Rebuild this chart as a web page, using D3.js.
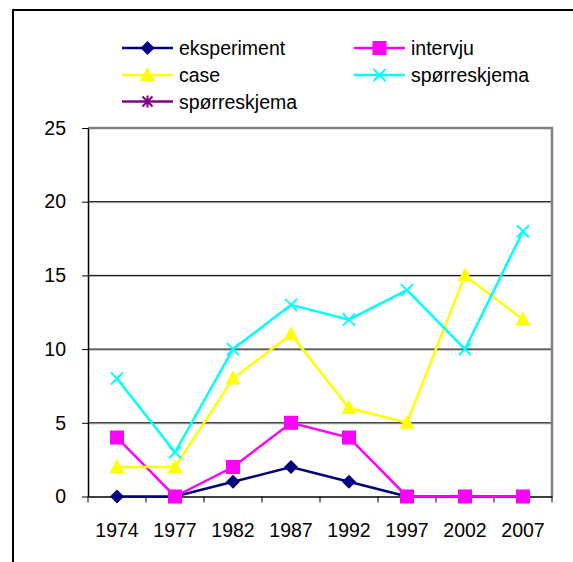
<!DOCTYPE html>
<html>
<head>
<meta charset="utf-8">
<script src="https://d3js.org/d3.v7.min.js"></script>
<style>
  body { margin: 0; background: #fff; }
  text { font-family: "Liberation Sans", Arial, sans-serif; }
</style>
</head>
<body>
<div id="chart"></div>
<script>

// data
var years = ["1974", "1977", "1982", "1987", "1992", "1997", "2002", "2007"];
var eksperiment = [0, 0, 1, 2, 1, 0, 0, 0];
var intervju = [4, 0, 2, 5, 4, 0, 0, 0];
var caseVals = [2, 2, 8, 11, 6, 5, 15, 12];
var sporreskjema = [8, 3, 10, 13, 12, 14, 10, 18];
var sporreskjema2 = [];   // second series in legend, no points drawn
var yTicks = [0, 5, 10, 15, 20, 25];

var series = [
  {name: "eksperiment", values: eksperiment, color: "#000080", marker: "diamond"},
  {name: "intervju", values: intervju, color: "#ff00ff", marker: "square"},
  {name: "case", values: caseVals, color: "#ffff00", marker: "triangle"},
  {name: "spørreskjema", values: sporreskjema, color: "#00ffff", marker: "x"},
  {name: "spørreskjema", values: sporreskjema2, color: "#800080", marker: "star"}
];

var W = 573, H = 562;
var plot = {left: 88, right: 552, top: 128, bottom: 496.5};
var fontSize = 19.5;

var svg = d3.select("#chart").append("svg")
  .attr("width", W)
  .attr("height", H);

// outer chart border (runs off the right and bottom)
svg.append("rect")
  .attr("x", 13).attr("y", 10)
  .attr("width", 600).attr("height", 600)
  .attr("fill", "none")
  .attr("stroke", "#000")
  .attr("stroke-width", 2);

var x = d3.scaleBand().domain(years).range([plot.left, plot.right]);
var y = d3.scaleLinear().domain([0, 25]).range([plot.bottom, plot.top]);

// gridlines
var grid = svg.append("g");
yTicks.slice(1, -1).forEach(function(t) {
  grid.append("line")
    .attr("x1", plot.left).attr("x2", plot.right)
    .attr("y1", y(t) + 1).attr("y2", y(t) + 1)
    .attr("stroke", "#b0b0b0").attr("stroke-width", 1);
  grid.append("line")
    .attr("x1", plot.left).attr("x2", plot.right)
    .attr("y1", y(t)).attr("y2", y(t))
    .attr("stroke", "#000").attr("stroke-width", 1);
});

// plot area border top/right in gray
svg.append("path")
  .attr("d", "M" + plot.left + "," + plot.top + "H" + plot.right + "V" + plot.bottom)
  .attr("fill", "none")
  .attr("stroke", "#808080")
  .attr("stroke-width", 2.5);

// axes
var yAxis = svg.append("g")
  .attr("transform", "translate(" + plot.left + ",0)")
  .call(d3.axisLeft(y).tickValues(yTicks).tickSize(6).tickPadding(16).tickSizeOuter(0));

var xAxis = svg.append("g")
  .attr("transform", "translate(0," + plot.bottom + ")")
  .call(d3.axisBottom(x).tickSize(0).tickPadding(27));

// category boundary ticks on x axis
xAxis.selectAll(".bound")
  .data(years.concat(["end"]))
  .enter().append("line")
  .attr("x1", function(d, i) { return plot.left + i * x.step(); })
  .attr("x2", function(d, i) { return plot.left + i * x.step(); })
  .attr("y1", 0).attr("y2", 6)
  .attr("stroke", "#000");

[yAxis, xAxis].forEach(function(a) {
  a.select(".domain").attr("stroke", "#000").attr("stroke-width", 1.5);
  a.selectAll("text").attr("font-size", fontSize).attr("fill", "#000");
});

function drawMarker(g, type, color, cx, cy) {
  if (type === "diamond") {
    g.append("path").attr("d", "M" + cx + "," + (cy - 7) + "L" + (cx + 7) + "," + cy + "L" + cx + "," + (cy + 7) + "L" + (cx - 7) + "," + cy + "Z")
      .attr("fill", color);
  } else if (type === "square") {
    g.append("rect").attr("x", cx - 7).attr("y", cy - 7).attr("width", 14).attr("height", 14)
      .attr("fill", color);
  } else if (type === "triangle") {
    g.append("path").attr("d", "M" + cx + "," + (cy - 8) + "L" + (cx + 7.5) + "," + (cy + 6) + "L" + (cx - 7.5) + "," + (cy + 6) + "Z")
      .attr("fill", color);
  } else if (type === "x") {
    g.append("path").attr("d", "M" + (cx - 6) + "," + (cy - 6) + "L" + (cx + 6) + "," + (cy + 6) + "M" + (cx + 6) + "," + (cy - 6) + "L" + (cx - 6) + "," + (cy + 6))
      .attr("stroke", color).attr("stroke-width", 2).attr("fill", "none");
  } else if (type === "star") {
    g.append("path").attr("d", "M" + (cx - 5) + "," + (cy - 5) + "L" + (cx + 5) + "," + (cy + 5) + "M" + (cx + 5) + "," + (cy - 5) + "L" + (cx - 5) + "," + (cy + 5) + "M" + cx + "," + (cy - 6) + "V" + (cy + 6))
      .attr("stroke", color).attr("stroke-width", 2).attr("fill", "none");
  }
}

var line = d3.line()
  .x(function(d, i) { return x(years[i]) + x.bandwidth() / 2; })
  .y(function(d) { return y(d); });

series.forEach(function(s) {
  if (!s.values.length) return;
  var g = svg.append("g");
  g.append("path")
    .datum(s.values)
    .attr("d", line)
    .attr("fill", "none")
    .attr("stroke", s.color)
    .attr("stroke-width", 2.5);
  s.values.forEach(function(v, i) {
    drawMarker(g, s.marker, s.color, x(years[i]) + x.bandwidth() / 2, y(v));
  });
});

// legend
var legendPos = [[122, 48], [354, 48], [122, 75], [354, 75], [122, 101.5]];
series.forEach(function(s, i) {
  var p = legendPos[i];
  var g = svg.append("g");
  g.append("line")
    .attr("x1", p[0]).attr("x2", p[0] + 51)
    .attr("y1", p[1]).attr("y2", p[1])
    .attr("stroke", s.color).attr("stroke-width", 2.5);
  drawMarker(g, s.marker, s.color, p[0] + 25.5, p[1]);
  g.append("text")
    .attr("x", p[0] + 57).attr("y", p[1] + 7)
    .attr("font-size", fontSize)
    .attr("fill", "#000")
    .text(s.name);
});

</script>
</body>
</html>
